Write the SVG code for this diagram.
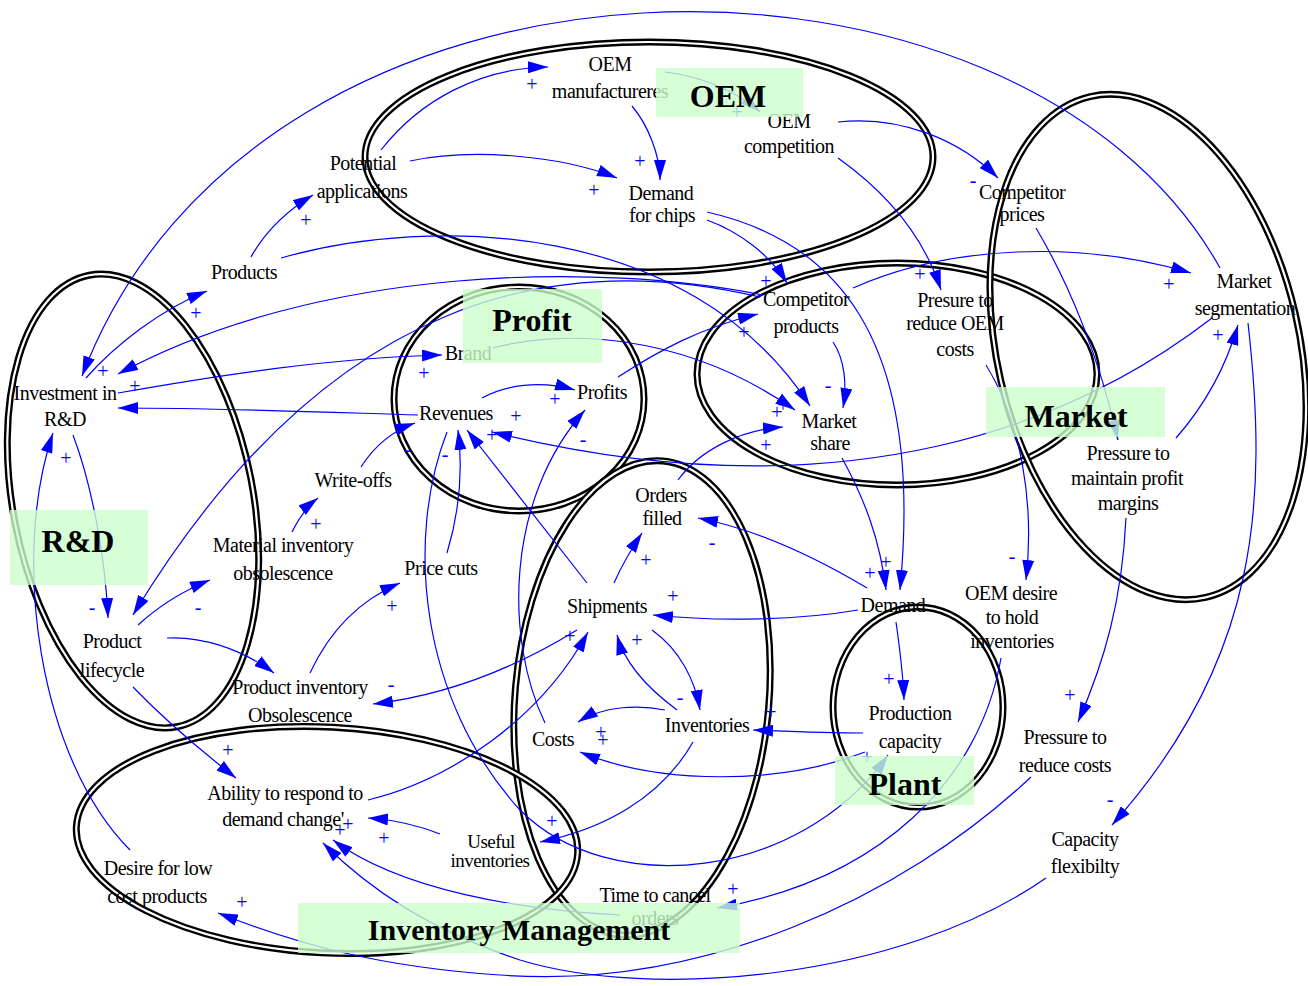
<svg xmlns="http://www.w3.org/2000/svg" width="1308" height="986" viewBox="0 0 1308 986">
<style>
.n{font-family:"Liberation Serif","Times New Roman",serif;font-size:20px;fill:#000;text-anchor:middle;letter-spacing:-0.5px}
.s{font-family:"Liberation Serif","Times New Roman",serif;font-size:20px;fill:#0000ff;text-anchor:middle}
.lk{fill:none;stroke:#0000ff;stroke-width:1.2;marker-end:url(#ah)}
.ro{fill:none;stroke:#000;stroke-width:7}
.ri{fill:none;stroke:#fff;stroke-width:2.2}
.gb{fill:#ccffcc;fill-opacity:0.8}
.gl{font-family:"Liberation Serif","Times New Roman",serif;font-weight:bold;font-size:32px;fill:#000;text-anchor:middle}
</style>
<defs>
<marker id="ah" viewBox="0 0 20 12" refX="20" refY="6" markerWidth="20" markerHeight="12" markerUnits="userSpaceOnUse" orient="auto"><path d="M0,0 L20,6 L0,12 z" fill="#0000ff"/></marker>
<ellipse id="e-oem" cx="649" cy="157" rx="284" ry="115"/>
<ellipse id="e-mkt" cx="897" cy="374" rx="200" ry="111"/>
<ellipse id="e-mkt2" cx="1148" cy="347" rx="151" ry="257" transform="rotate(-13 1148 347)"/>
<ellipse id="e-prof" cx="519" cy="399" rx="125" ry="112"/>
<ellipse id="e-rd" cx="133" cy="501" rx="120" ry="230" transform="rotate(-11 133 501)"/>
<ellipse id="e-inv" cx="642" cy="698" rx="127" ry="238" transform="rotate(5 642 698)"/>
<ellipse id="e-plant" cx="918" cy="707" rx="85" ry="100"/>
<ellipse id="e-im" cx="327" cy="840" rx="251" ry="113" transform="rotate(3 327 840)"/>
</defs>
<rect width="1308" height="986" fill="#fff"/>
<g id="rings">
<use href="#e-oem" class="ro"/><use href="#e-oem" class="ri"/>
<use href="#e-mkt" class="ro"/><use href="#e-mkt" class="ri"/>
<use href="#e-mkt2" class="ro"/><use href="#e-mkt2" class="ri"/>
<use href="#e-prof" class="ro"/><use href="#e-prof" class="ri"/>
<use href="#e-rd" class="ro"/><use href="#e-rd" class="ri"/>
<use href="#e-inv" class="ro"/><use href="#e-inv" class="ri"/>
<use href="#e-plant" class="ro"/><use href="#e-plant" class="ri"/>
<use href="#e-im" class="ro"/><use href="#e-im" class="ri"/>
</g>
<g id="connectors">
<path class="lk" d="M1220,268 C1020,-90 260,-90 82,376"/>
<path class="lk" d="M86,378 C115,345 160,310 207,291"/>
<path class="lk" d="M763,295 C600,262 320,265 118,374"/>
<path class="lk" d="M418,415 C320,412 220,408 118,408"/>
<path class="lk" d="M130,850 C40,760 10,560 53,433"/>
<path class="lk" d="M118,393 C220,375 330,358 442,355"/>
<path class="lk" d="M73,435 C90,480 105,550 108,618"/>
<path class="lk" d="M760,297 C560,250 330,290 133,615"/>
<path class="lk" d="M251,257 C265,232 288,210 313,195"/>
<path class="lk" d="M381,150 C420,100 480,68 548,67"/>
<path class="lk" d="M410,161 C470,148 560,155 617,178"/>
<path class="lk" d="M632,106 C648,125 660,155 660,180"/>
<path class="lk" d="M665,72 C700,76 735,90 760,112"/>
<path class="lk" d="M838,122 C900,115 960,140 998,178"/>
<path class="lk" d="M838,158 C890,195 925,240 941,290"/>
<path class="lk" d="M853,288 C950,245 1080,240 1191,273"/>
<path class="lk" d="M281,258 C430,215 690,220 810,406"/>
<path class="lk" d="M493,348 C560,330 680,330 795,410"/>
<path class="lk" d="M707,220 C740,232 770,255 787,283"/>
<path class="lk" d="M707,212 C830,240 925,330 900,590"/>
<path class="lk" d="M833,342 C845,360 847,385 843,408"/>
<path class="lk" d="M842,458 C865,500 880,540 886,590"/>
<path class="lk" d="M678,480 C700,450 740,430 783,427"/>
<path class="lk" d="M1212,318 C1080,420 850,520 492,432"/>
<path class="lk" d="M1036,228 C1070,285 1100,360 1118,440"/>
<path class="lk" d="M1176,438 C1205,405 1225,370 1238,325"/>
<path class="lk" d="M1248,323 C1268,500 1260,660 1112,825"/>
<path class="lk" d="M986,365 C1020,420 1035,500 1026,580"/>
<path class="lk" d="M1126,518 C1122,600 1105,660 1078,722"/>
<path class="lk" d="M867,588 C820,560 760,530 698,518"/>
<path class="lk" d="M858,610 C800,620 720,622 653,615"/>
<path class="lk" d="M614,583 C622,565 632,548 642,533"/>
<path class="lk" d="M587,583 L467,430"/>
<path class="lk" d="M447,553 C460,510 463,470 458,430"/>
<path class="lk" d="M361,467 C375,445 395,430 415,423"/>
<path class="lk" d="M482,398 C505,385 540,380 575,390"/>
<path class="lk" d="M545,723 C505,640 505,500 585,410"/>
<path class="lk" d="M618,377 C660,350 700,328 758,314"/>
<path class="lk" d="M677,710 C650,690 625,665 617,635"/>
<path class="lk" d="M652,630 C680,650 695,680 700,710"/>
<path class="lk" d="M665,710 C640,705 605,705 578,722"/>
<path class="lk" d="M865,752 C780,785 660,785 580,752"/>
<path class="lk" d="M863,733 C820,733 780,731 753,730"/>
<path class="lk" d="M896,622 C900,650 903,675 904,700"/>
<path class="lk" d="M1001,658 C980,780 880,880 717,908"/>
<path class="lk" d="M447,432 C405,540 420,700 520,810 C610,900 800,880 888,755"/>
<path class="lk" d="M1031,777 C900,900 700,990 500,975 C380,967 300,945 218,913"/>
<path class="lk" d="M1046,878 C900,980 650,1000 520,960 C430,930 370,890 323,843"/>
<path class="lk" d="M620,915 C520,910 400,890 333,840"/>
<path class="lk" d="M133,687 C160,715 200,750 236,778"/>
<path class="lk" d="M368,800 C450,780 540,720 588,632"/>
<path class="lk" d="M440,834 C420,826 395,820 368,818"/>
<path class="lk" d="M693,742 C660,800 600,830 540,842"/>
<path class="lk" d="M577,630 C520,665 450,695 373,704"/>
<path class="lk" d="M310,673 C330,630 360,600 400,583"/>
<path class="lk" d="M292,532 C298,520 305,508 318,498"/>
<path class="lk" d="M138,625 C160,605 185,590 210,580"/>
<path class="lk" d="M167,638 C200,636 240,648 274,673"/>
</g>
<g id="signs">
<text class="s" x="306" y="227">+</text><text class="s" x="196" y="320">+</text>
<text class="s" x="532" y="91">+</text><text class="s" x="640" y="168">+</text>
<text class="s" x="594" y="197">+</text><text class="s" x="737" y="119">+</text>
<text class="s" x="766" y="288">+</text><text class="s" x="744" y="339">+</text>
<text class="s" x="973" y="187">-</text><text class="s" x="920" y="281">+</text>
<text class="s" x="1169" y="291">+</text><text class="s" x="1218" y="342">+</text>
<text class="s" x="103" y="378">+</text><text class="s" x="135" y="393">+</text>
<text class="s" x="66" y="465">+</text><text class="s" x="424" y="380">+</text>
<text class="s" x="407" y="456">-</text><text class="s" x="445" y="461">-</text>
<text class="s" x="92" y="614">-</text><text class="s" x="198" y="614">-</text>
<text class="s" x="316" y="531">+</text><text class="s" x="392" y="613">+</text>
<text class="s" x="555" y="406">+</text><text class="s" x="516" y="423">+</text>
<text class="s" x="492" y="442">+</text><text class="s" x="583" y="446">-</text>
<text class="s" x="777" y="419">+</text><text class="s" x="783" y="412">+</text>
<text class="s" x="766" y="452">+</text><text class="s" x="828" y="392">-</text>
<text class="s" x="646" y="567">+</text><text class="s" x="712" y="549">-</text>
<text class="s" x="673" y="603">+</text><text class="s" x="570" y="643">+</text>
<text class="s" x="637" y="647">+</text><text class="s" x="870" y="580">+</text>
<text class="s" x="886" y="569">+</text><text class="s" x="1012" y="563">-</text>
<text class="s" x="228" y="757">+</text><text class="s" x="391" y="691">-</text>
<text class="s" x="340" y="837">+</text><text class="s" x="348" y="831">+</text>
<text class="s" x="384" y="845">+</text><text class="s" x="242" y="909">+</text>
<text class="s" x="680" y="704">-</text><text class="s" x="601" y="739">+</text>
<text class="s" x="603" y="747">+</text><text class="s" x="771" y="719">+</text>
<text class="s" x="552" y="828">+</text><text class="s" x="733" y="896">+</text>
<text class="s" x="889" y="686">+</text><text class="s" x="1070" y="702">+</text>
<text class="s" x="1110" y="806">-</text><text class="s" x="867" y="764">+</text>
</g>
<g id="n-potential"><text class="n"><tspan x="363" y="170">Potential</tspan><tspan x="362" y="198">applications</tspan></text></g>
<g id="n-products"><text class="n" x="244" y="279">Products</text></g>
<g id="n-oem-manuf"><text class="n"><tspan x="610" y="71">OEM</tspan><tspan x="610" y="98">manufactureres</tspan></text></g>
<g id="n-oem-comp"><text class="n"><tspan x="789" y="128">OEM</tspan><tspan x="789" y="153">competition</tspan></text></g>
<g id="n-demand-chips"><text class="n"><tspan x="661" y="200">Demand</tspan><tspan x="662" y="222">for chips</tspan></text></g>
<g id="n-comp-products"><text class="n"><tspan x="806" y="306">Competitor</tspan><tspan x="806" y="333">products</tspan></text></g>
<g id="n-comp-prices"><text class="n"><tspan x="1022" y="199">Competitor</tspan><tspan x="1022" y="221">prices</tspan></text></g>
<g id="n-market-seg"><text class="n"><tspan x="1244" y="288">Market</tspan><tspan x="1245" y="315">segmentation</tspan></text></g>
<g id="n-presure-oem"><text class="n"><tspan x="955" y="307">Presure to</tspan><tspan x="955" y="330">reduce OEM</tspan><tspan x="955" y="356">costs</tspan></text></g>
<g id="n-invest-rd"><text class="n"><tspan x="65" y="400">Investment in</tspan><tspan x="65" y="426">R&amp;D</tspan></text></g>
<g id="n-brand"><text class="n" x="468" y="360">Brand</text></g>
<g id="n-revenues"><text class="n" x="456" y="420">Revenues</text></g>
<g id="n-profits"><text class="n" x="602" y="399">Profits</text></g>
<g id="n-market-share"><text class="n"><tspan x="829" y="428">Market</tspan><tspan x="830" y="450">share</tspan></text></g>
<g id="n-writeoffs"><text class="n" x="353" y="487">Write-offs</text></g>
<g id="n-material-obs"><text class="n"><tspan x="283" y="552">Material inventory</tspan><tspan x="283" y="580">obsolescence</tspan></text></g>
<g id="n-price-cuts"><text class="n" x="441" y="575">Price cuts</text></g>
<g id="n-orders-filled"><text class="n"><tspan x="661" y="502">Orders</tspan><tspan x="662" y="525">filled</tspan></text></g>
<g id="n-shipments"><text class="n" x="607" y="613">Shipments</text></g>
<g id="n-demand"><text class="n" x="893" y="612">Demand</text></g>
<g id="n-pressure-margins"><text class="n"><tspan x="1128" y="460">Pressure to</tspan><tspan x="1127" y="485">maintain profit</tspan><tspan x="1128" y="510">margins</tspan></text></g>
<g id="n-oem-desire"><text class="n"><tspan x="1011" y="600">OEM desire</tspan><tspan x="1012" y="624">to hold</tspan><tspan x="1012" y="648">inventories</tspan></text></g>
<g id="n-lifecycle"><text class="n"><tspan x="112" y="648">Product</tspan><tspan x="112" y="677">lifecycle</tspan></text></g>
<g id="n-product-obs"><text class="n"><tspan x="300" y="694">Product inventory</tspan><tspan x="300" y="722">Obsolescence</tspan></text></g>
<g id="n-costs"><text class="n" x="553" y="746">Costs</text></g>
<g id="n-inventories"><text class="n" x="707" y="732">Inventories</text></g>
<g id="n-prod-capacity"><text class="n"><tspan x="910" y="720">Production</tspan><tspan x="910" y="748">capacity</tspan></text></g>
<g id="n-ability"><text class="n"><tspan x="285" y="800">Ability to respond to</tspan><tspan x="283" y="826">demand change'</tspan></text></g>
<g id="n-useful"><text class="n" style="font-size:19px"><tspan x="491" y="848">Useful</tspan><tspan x="490" y="867">inventories</tspan></text></g>
<g id="n-desire-low"><text class="n"><tspan x="158" y="875">Desire for low</tspan><tspan x="157" y="903">cost products</tspan></text></g>
<g id="n-time-cancel"><text class="n"><tspan x="655" y="902">Time to cancel</tspan><tspan x="655" y="925">orders</tspan></text></g>
<g id="n-pressure-costs"><text class="n"><tspan x="1065" y="744">Pressure to</tspan><tspan x="1065" y="772">reduce costs</tspan></text></g>
<g id="n-capacity-flex"><text class="n"><tspan x="1085" y="846">Capacity</tspan><tspan x="1085" y="873">flexibilty</tspan></text></g>
<g id="labels">
<rect class="gb" x="656" y="68" width="147" height="49"/><text class="gl" x="728" y="107">OEM</text>
<rect class="gb" x="463" y="289" width="139" height="74"/><text class="gl" x="532" y="331">Profit</text>
<rect class="gb" x="986" y="387" width="179" height="50"/><text class="gl" x="1076" y="427">Market</text>
<rect class="gb" x="10" y="510" width="138" height="75"/><text class="gl" x="78" y="552">R&amp;D</text>
<rect class="gb" x="835" y="756" width="139" height="49"/><text class="gl" x="905" y="795">Plant</text>
<rect class="gb" x="298" y="903" width="442" height="50"/><text class="gl" x="519" y="940" style="font-size:30px">Inventory Management</text>
</g>
</svg>
